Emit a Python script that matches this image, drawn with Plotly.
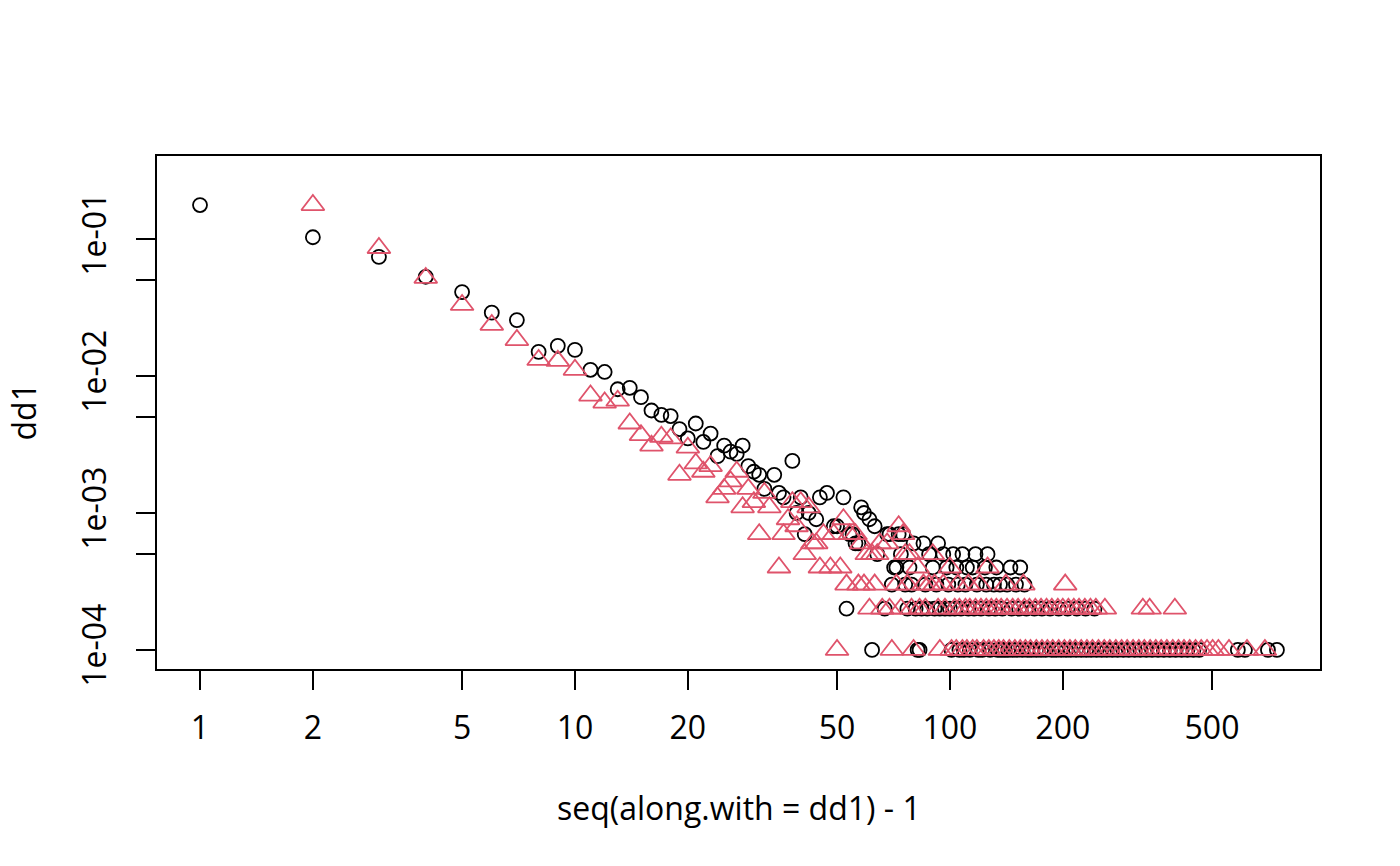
import plotly.graph_objects as go

# dd1: Gradverteilung (schwarze Kreise), Kopf der Verteilung
deg1 = [1, 2, 3, 4, 5, 6, 7, 8, 9, 10, 11, 12, 13, 14, 15, 16, 17, 18, 19, 20,
        21, 22, 23, 24, 25, 26, 27, 28, 29, 30, 31, 32, 34, 35, 36, 38, 39, 40, 41, 42,
        44, 45, 47, 49, 50, 52, 54, 55, 56, 57, 58, 59, 61, 63, 68, 69, 73, 75, 80, 85, 93]
val1 = [0.177, 0.103, 0.074, 0.053, 0.041, 0.029, 0.0256, 0.0150, 0.0166, 0.0155,
        0.0111, 0.0107, 0.0080, 0.0082, 0.0070, 0.0056, 0.0052, 0.0051, 0.0041, 0.0035,
        0.0045, 0.0033, 0.0038, 0.0026, 0.0031, 0.0028, 0.0027, 0.0031, 0.0022, 0.0020,
        0.0019, 0.0015, 0.0019, 0.0014, 0.0013, 0.0024, 0.0010, 0.0013, 0.0007, 0.0010,
        0.0009, 0.0013, 0.0014, 0.0008, 0.0008, 0.0013, 0.0007, 0.0007, 0.0006, 0.0006,
        0.0011, 0.0010, 0.0009, 0.0008, 0.0007, 0.0007, 0.0007, 0.0007, 0.0006, 0.0006, 0.0006]

# dd1: Grade mit 5, 4, 3, 2, 1 Knoten (Anteil 5e-04 ... 1e-04)
deg1_5 = [64, 74, 88, 96, 102, 108, 117, 126]
deg1_4 = [71, 72, 78, 90, 98, 104, 111, 115, 124, 133, 145, 154]
deg1_3 = [70, 76, 79, 86, 92, 99, 105, 110, 118, 125, 131, 136, 142, 150, 158]
deg1_2 = [53, 67, 77, 81, 84, 87, 91, 94, 97, 100, 103, 107, 112, 116, 121, 127, 132, 138,
          146, 153, 160, 168, 176, 185, 195, 206, 218, 230, 243]
deg1_1 = [62, 82, 83, 101, 106, 109, 113, 119, 122, 128, 134, 137, 140, 143, 147, 151, 156,
          161, 165, 170, 175, 180, 187, 192, 198, 204, 210, 217, 224, 231, 238, 246, 254,
          262, 271, 280, 290, 300, 311, 322, 334, 346, 359, 372, 386, 400, 415, 430, 446,
          462, 586, 612, 705, 745]

# dd2: zweite Verteilung (rote Dreiecke)
deg2 = [2, 3, 4, 5, 6, 7, 8, 9, 10, 11, 12, 13, 14, 15, 16, 17, 18, 19, 20, 21,
        22, 23, 24, 25, 26, 27, 28, 29, 30, 31, 32, 33, 36, 37, 38, 39, 40, 42, 43, 44,
        46, 49, 52, 54, 56, 58, 65, 68, 73, 75]
val2 = [0.177, 0.086, 0.052, 0.033, 0.0236, 0.0183, 0.0131, 0.0129, 0.0111, 0.0072,
        0.0064, 0.0066, 0.0045, 0.0037, 0.0031, 0.0036, 0.0035, 0.0019, 0.0030, 0.0023,
        0.0020, 0.0022, 0.0013, 0.0015, 0.0017, 0.0020, 0.0011, 0.0015, 0.0012, 0.0007,
        0.0014, 0.0011, 0.0007, 0.0009, 0.0012, 0.0008, 0.0012, 0.0011, 0.0006, 0.0006,
        0.0007, 0.0007, 0.0009, 0.0007, 0.0007, 0.0006, 0.0006, 0.0006, 0.0008, 0.0007]

deg2_5 = [41, 60, 62, 64, 76, 78, 90]
deg2_4 = [35, 45, 48, 51, 82, 100, 126]
deg2_3 = [53, 57, 59, 63, 72, 77, 85, 88, 91, 96, 105, 112, 120, 141, 157, 203]
deg2_2 = [61, 66, 69, 74, 79, 83, 86, 93, 97, 103, 106, 110, 113, 117, 121, 125, 129, 133,
          137, 142, 147, 152, 158, 163, 169, 175, 181, 187, 194, 200, 207, 214, 221, 229,
          237, 245, 259, 327, 341, 398]
deg2_1 = [50, 70, 80, 94, 101, 104, 108, 111, 115, 118, 123, 127, 131, 135, 139, 144, 149,
          154, 159, 164, 170, 176, 182, 188, 195, 202, 209, 216, 224, 232, 240, 249, 258,
          267, 277, 287, 297, 308, 319, 330, 342, 354, 366, 379, 393, 407, 421, 436, 452,
          468, 485, 502, 520, 555, 620, 692]

levels = [5e-4, 4e-4, 3e-4, 2e-4, 1e-4]

x_ticks = [1, 2, 5, 10, 20, 50, 100, 200, 500]
y_ticks = [1e-4, 5e-4, 1e-3, 5e-3, 1e-2, 5e-2, 1e-1]
y_labels = ["1e-04", "", "1e-03", "", "1e-02", "", "1e-01"]


def join(deg, val, tails):
    xs, ys = list(deg), list(val)
    for lvl, d in zip(levels, tails):
        xs += d
        ys += [lvl] * len(d)
    return xs, ys


x1, y1 = join(deg1, val1, [deg1_5, deg1_4, deg1_3, deg1_2, deg1_1])
x2, y2 = join(deg2, val2, [deg2_5, deg2_4, deg2_3, deg2_2, deg2_1])

font = "Open Sans, Noto Sans, sans-serif"
fsize = 32

fig = go.Figure()
fig.add_trace(go.Scatter(x=x1, y=y1, mode="markers", name="dd1",
                         marker=dict(symbol="circle-open", size=14, color="black",
                                     line=dict(width=1.8, color="black"))))
fig.add_trace(go.Scatter(x=x2, y=y2, mode="markers", name="dd2",
                         marker=dict(symbol="triangle-up-open", size=20, color="#DF536B",
                                     line=dict(width=1.8, color="#DF536B"))))

axis_common = dict(showgrid=False, zeroline=False, showline=True, mirror=True,
                   linecolor="black", linewidth=1.5, ticks="outside", ticklen=19,
                   tickwidth=1.5, tickcolor="black",
                   tickfont=dict(family=font, size=fsize, color="black"))

fig.update_xaxes(type="log", range=[-0.1147, 2.987], tickvals=x_ticks,
                 ticktext=[str(v) for v in x_ticks], ticklabelstandoff=11, **axis_common)
fig.update_yaxes(type="log", range=[-4.139, -0.394], tickvals=y_ticks,
                 ticktext=y_labels, tickangle=-90, ticklabelstandoff=17, **axis_common)

# Achsentitel
fig.add_annotation(text="seq(along.with = dd1) - 1", xref="paper", yref="paper",
                   x=0.5, y=(669 - 807) / 513, xanchor="center", yanchor="middle",
                   showarrow=False, font=dict(family=font, size=fsize, color="black"))
fig.add_annotation(text="dd1", xref="paper", yref="paper",
                   x=(23 - 157) / 1163, y=0.5, xanchor="center", yanchor="middle",
                   textangle=-90, showarrow=False, borderpad=0,
                   font=dict(family=font, size=fsize, color="black"))

fig.update_layout(width=1400, height=866, showlegend=False,
                  margin=dict(l=157, r=80, t=156, b=197),
                  plot_bgcolor="white", paper_bgcolor="white")

# Browser-Standardrand der Seite entfernen, damit die Grafik bei (0, 0) beginnt
fig.write_html("out.html", config={"displayModeBar": False},
               post_script="document.body.style.margin = '0';")
